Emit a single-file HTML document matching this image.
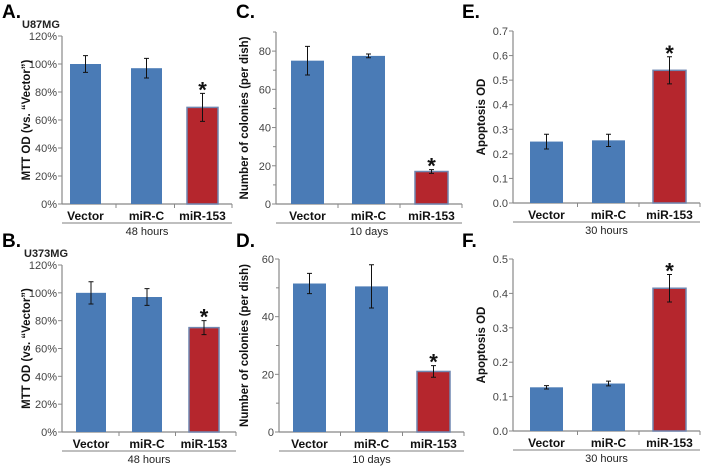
<!DOCTYPE html>
<html><head><meta charset="utf-8"><style>
body{margin:0;background:#fff;}
svg{display:block;font-family:"Liberation Sans",Arial,sans-serif;}
.tick{font-size:11px;fill:#444;}
.cat{font-size:12px;font-weight:bold;fill:#111;}
.ylab{font-size:11.5px;font-weight:bold;fill:#111;}
.panel{font-size:19px;font-weight:bold;fill:#000;}
.sub{font-size:11px;fill:#222;}
</style></head><body>
<svg id="fig" width="702" height="467" viewBox="0 0 702 467" xmlns="http://www.w3.org/2000/svg"></svg>
<script>
const categories = ["Vector","miR-C","miR-153"];
const valuesA = [100,97,69];   const errA = [6,7,10];
const valuesB = [100,97,75];   const errB = [8,6,5];
const valuesC = [75,77.5,17];  const errC = [7.5,1,1];
const valuesD = [51.5,50.5,21];const errD = [3.5,7.5,2];
const valuesE = [0.25,0.255,0.54]; const errE = [0.03,0.025,0.055];
const valuesF = [0.127,0.138,0.415]; const errF = [0.005,0.007,0.04];
const ticksPct = ["0%","20%","40%","60%","80%","100%","120%"];
const ticksC = ["0","20","40","60","80"];
const ticksD = ["0","20","40","60"];
const ticksE = ["0.0","0.1","0.2","0.3","0.4","0.5","0.6","0.7"];
const ticksF = ["0.0","0.1","0.2","0.3","0.4","0.5"];

const NS="http://www.w3.org/2000/svg";
const svg=document.getElementById('fig');
function mk(tag,attrs,parent,text){const e=document.createElementNS(NS,tag);for(const k in attrs)e.setAttribute(k,attrs[k]);if(text!==undefined)e.textContent=text;(parent||svg).appendChild(e);return e;}

const panels=[
 {id:'a',letter:'A.',sub:'U87MG',vals:valuesA,err:errA,ticks:ticksPct,step:20,max:120,minor:false,ax:62,top:36,bot:204,right:232,bars:[70,131,187],bw:31,ylab:'MTT OD (vs. \u201cVector\u201d)',ylx:30,time:'48 hours',ly:0,lx:2,sx:22},
 {id:'b',letter:'B.',sub:'U373MG',vals:valuesB,err:errB,ticks:ticksPct,step:20,max:120,minor:false,ax:62,top:265,bot:432,right:236,bars:[76,132,189],bw:30,ylab:'MTT OD (vs. \u201cVector\u201d)',ylx:30,time:'48 hours',ly:229,lx:2,sx:24},
 {id:'c',letter:'C.',sub:'',vals:valuesC,err:errC,ticks:ticksC,step:20,max:90,minor:true,ax:276,top:32,bot:204,right:462,bars:[291,352,415],bw:33,ylab:'Number of colonies (per dish)',ylx:248,time:'10 days',ly:0,lx:236},
 {id:'d',letter:'D.',sub:'',vals:valuesD,err:errD,ticks:ticksD,step:20,max:60,minor:true,ax:279,top:259,bot:432,right:464,bars:[293,355,417],bw:33,ylab:'Number of colonies (per dish)',ylx:248,time:'10 days',ly:229,lx:236},
 {id:'e',letter:'E.',sub:'',vals:valuesE,err:errE,ticks:ticksE,step:0.1,max:0.7,minor:false,ax:513,top:31,bot:203,right:700,bars:[530,592,653],bw:33,ylab:'Apoptosis OD',ylx:485,time:'30 hours',ly:0,lx:462},
 {id:'f',letter:'F.',sub:'',vals:valuesF,err:errF,ticks:ticksF,step:0.1,max:0.5,minor:false,ax:513,top:259,bot:431,right:700,bars:[530,592,653],bw:33,ylab:'Apoptosis OD',ylx:485,time:'30 hours',ly:229,lx:462}
];

panels.forEach(p=>{
 const g=mk('g',{});
 
 
 const y=v=>p.bot-(v/p.max)*(p.bot-p.top);
 const L=mk('text',{x:p.lx,y:p.ly+18,class:'panel'},g,p.letter);
 
 
 if(p.sub){const s=mk('text',{x:p.sx,y:p.ly+28,class:'sub','font-weight':'bold'},g,p.sub);
  
  }
 const yaxis=mk('line',{x1:p.ax,y1:p.top,x2:p.ax,y2:p.bot,stroke:'#888','stroke-width':1.2},g);
 
 
 const xaxis=mk('line',{x1:p.ax,y1:p.bot,x2:p.right,y2:p.bot,stroke:'#888','stroke-width':1.2},g);
 
 
 p.ticks.forEach((t,i)=>{
  const yy=y(i*p.step);
  mk('line',{x1:p.ax-4,y1:yy,x2:p.ax,y2:yy,stroke:'#888'},g);
  const tl=mk('text',{x:p.ax-5,y:yy+4,'text-anchor':'end',class:'tick'},g,t);
  
  
  if(p.minor){const ym=y(i*p.step+p.step/2); if(ym>=p.top-1) mk('line',{x1:p.ax-3,y1:ym,x2:p.ax,y2:ym,stroke:'#888'},g);}
 });
 const cy=(p.top+p.bot)/2;
 const yl=mk('text',{x:p.ylx,y:cy,'text-anchor':'middle',class:'ylab',transform:'rotate(-90 '+p.ylx+' '+cy+')'},g,p.ylab);
 
 
 const centers=p.bars.map(b=>b+p.bw/2);
 for(let i=0;i<2;i++){const sx=(centers[i]+centers[i+1])/2;mk('line',{x1:sx,y1:p.bot,x2:sx,y2:p.bot+4,stroke:'#888'},g);}
 mk('line',{x1:p.right,y1:p.bot,x2:p.right,y2:p.bot+4,stroke:'#888'},g);
 categories.forEach((c,i)=>{
  const v=p.vals[i], e=p.err[i], cx=centers[i];
  const red=i===2;
  const r=mk('rect',{x:p.bars[i],y:y(v),width:p.bw,height:p.bot-y(v),fill:red?'#b5262d':'#4a7bb6',stroke:red?'#6f86b0':'none','stroke-width':red?1.5:0},g);
  
  
  const eb=mk('path',{d:`M${cx},${y(v+e)}V${y(v-e)}M${cx-2.5},${y(v+e)}H${cx+2.5}M${cx-2.5},${y(v-e)}H${cx+2.5}`,stroke:'#111','stroke-width':1,fill:'none'},g);
  
  
  if(red){const st=mk('text',{x:cx,y:y(v+e)+4,'text-anchor':'middle','font-size':'22px','font-weight':'bold',fill:'#111'},g,'*');
   
   }
  const cl=mk('text',{x:cx,y:p.bot+16,'text-anchor':'middle',class:'cat'},g,c);
  
  
 });
 const tl=p.bot+19;
 mk('line',{x1:p.ax,y1:tl,x2:p.right,y2:tl,stroke:'#555','stroke-width':0.8},g);
 const tt=mk('text',{x:(p.ax+p.right)/2,y:tl+12,'text-anchor':'middle',class:'sub'},g,p.time);
 
 
});
</script>
</body></html>
